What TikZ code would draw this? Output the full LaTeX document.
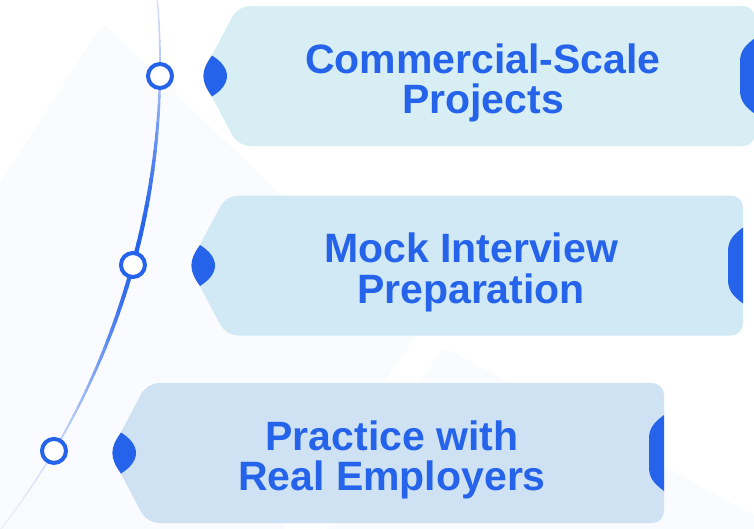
\documentclass[tikz,border=0pt]{standalone}
\usepackage{fontspec}
\setmainfont{Liberation Sans}
\usetikzlibrary{calc}

\definecolor{mainblue}{HTML}{2563EB}
\definecolor{cardA}{HTML}{D7EFF4}
\definecolor{cardB}{HTML}{D1E9F5}
\definecolor{cardC}{HTML}{CEE2F4}
\definecolor{bgtint}{HTML}{F9FBFE}

\tikzset{
  cardbody/.style={rounded corners=12pt},
  cardtext/.style={text=mainblue, font=\fontsize{41}{40.5}\selectfont\bfseries, align=center, inner sep=0pt},
  ringdot/.style={circle, draw=mainblue, line width=4pt, fill=white, minimum size=24pt, inner sep=0pt},
}

\begin{document}
\begin{tikzpicture}[x=1pt,y=-1pt]
\useasboundingbox (0,0) rectangle (754,528);
\clip (0,0) rectangle (754,528);
\fill[white] (0,0) rectangle (754,528);
% faint shapes behind everything
\fill[bgtint, rounded corners=8pt] (103,23) -- (420,330) -- (262,560) -- (-20,560) -- (-20,215) -- cycle;
\fill[bgtint, rounded corners=8pt] (443,347) -- (800,540) -- (320,540) -- cycle;

% timeline: one big arc, faded at both ends
\coordinate (arc) at (-598.7,64);
\foreach \i in {0,...,63}{
  \pgfmathsetmacro\a{-6+\i*0.7}
  \pgfmathsetmacro\b{\a+0.75}
  \pgfmathsetmacro\m{\a+0.35}
  \pgfmathtruncatemacro\p{8+92*exp(-((\m-14)/13)^2)}
  \pgfmathsetmacro\w{1+3.2*exp(-((\m-14)/13)^2)}
  \draw[mainblue!\p!white, line width=\w pt, line cap=round] ($(arc)+(\a:758.8)$) -- ($(arc)+(\b:758.8)$);
}

% cards: tip x / centre y / fill
\foreach \tx/\cy/\col in {201/76/cardA, 189/265.5/cardB, 110/453/cardC}{
  \fill[\col, cardbody] (\tx+37,\cy-70) -- (\tx,\cy) -- (\tx+37,\cy+70) -- (\tx+554,\cy+70) -- (\tx+554,\cy-70) -- cycle;
  % blue drop on the tip
  \fill[mainblue] (\tx+11,\cy-20.5) .. controls (\tx+31,\cy-8) and (\tx+31,\cy+8) .. (\tx+11,\cy+20.5)
    .. controls (\tx-0.5,\cy+5) and (\tx-0.5,\cy-5) .. (\tx+11,\cy-20.5) -- cycle;
  % blue tab on the right edge
  \fill[mainblue] (\tx+554,\cy-38) .. controls (\tx+543,\cy-30) and (\tx+539,\cy-24) .. (\tx+539,\cy-14)
    -- (\tx+539,\cy+14) .. controls (\tx+539,\cy+24) and (\tx+543,\cy+30) .. (\tx+554,\cy+38) -- cycle;
}

\node[cardtext] (projects) at (483,82.85) {Commercial-Scale\\Projects};
\node[cardtext] (interview) at (471,272.35) {Mock Interview\\Preparation};
\node[cardtext] (employers) at (392,459.85) {Practice with\\Real Employers};

% rings on the timeline
\node[ringdot] (ringA) at ($(arc)+(0.906:758.8)$) {};
\node[ringdot] (ringB) at ($(arc)+(15.36:758.8)$) {};
\node[ringdot] (ringC) at ($(arc)+(30.66:758.8)$) {};
\end{tikzpicture}
\end{document}
